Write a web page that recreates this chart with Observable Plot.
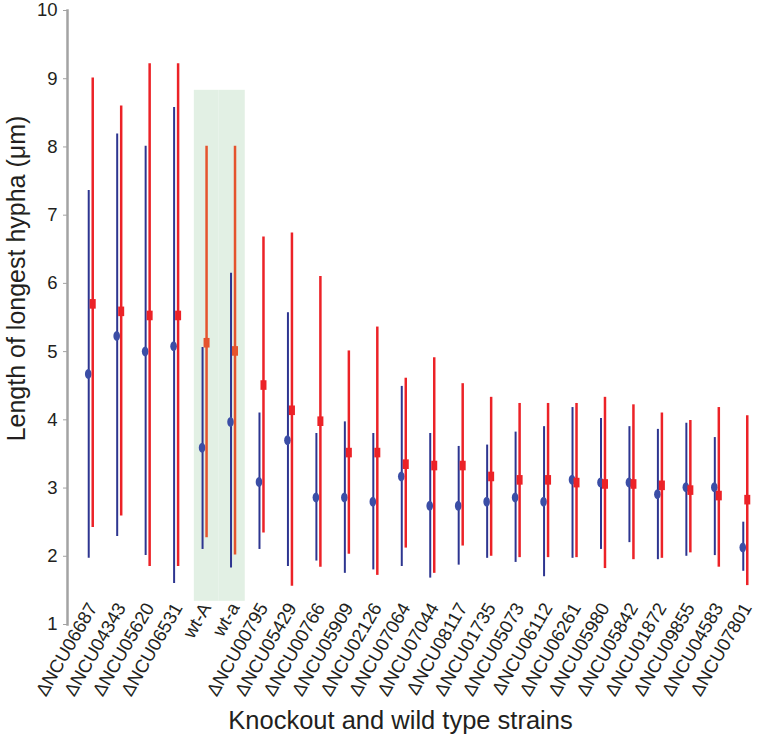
<!DOCTYPE html>
<html><head><meta charset="utf-8">
<script src="https://cdn.jsdelivr.net/npm/d3@7"></script>
<script src="https://cdn.jsdelivr.net/npm/@observablehq/plot@0.6"></script>
<style>body{margin:0;background:#fff}</style>
</head><body><div id="chart"></div>
<script>
const strains = ["ΔNCU06687","ΔNCU04343","ΔNCU05620","ΔNCU06531","wt-A","wt-a","ΔNCU00795","ΔNCU05429","ΔNCU00766","ΔNCU05909","ΔNCU02126","ΔNCU07064","ΔNCU07044","ΔNCU08117","ΔNCU01735","ΔNCU05073","ΔNCU06112","ΔNCU06261","ΔNCU05980","ΔNCU05842","ΔNCU01872","ΔNCU09855","ΔNCU04583","ΔNCU07801"];
const blueMean = [4.67,5.23,5.00,5.08,3.59,3.97,3.09,3.70,2.86,2.86,2.80,3.17,2.74,2.74,2.80,2.86,2.80,3.12,3.08,3.08,2.91,3.01,3.01,2.13];
const blueLow  = [1.97,2.29,2.01,1.60,2.10,1.83,2.10,1.85,1.93,1.75,1.80,1.85,1.68,1.87,1.97,1.91,1.70,1.97,2.10,2.20,1.95,2.00,2.01,1.78];
const blueHigh = [7.36,8.19,8.01,8.58,5.06,6.15,4.10,5.57,3.80,3.97,3.80,4.49,3.80,3.61,3.63,3.82,3.90,4.18,4.02,3.90,3.86,3.95,3.74,2.50];
const redMean  = [5.70,5.59,5.53,5.53,5.13,5.01,4.51,4.14,3.98,3.52,3.52,3.35,3.33,3.33,3.17,3.12,3.12,3.08,3.06,3.06,3.04,2.97,2.89,2.83];
const redLow   = [2.42,2.59,1.85,1.85,2.27,2.02,2.34,1.56,1.84,2.03,1.72,2.12,1.75,2.15,2.00,1.98,1.98,1.98,1.82,1.95,1.97,2.05,1.84,1.57];
const redHigh  = [9.01,8.60,9.22,9.22,8.01,8.01,6.68,6.74,6.10,5.01,5.36,4.61,4.91,4.53,4.33,4.24,4.24,4.24,4.33,4.22,4.10,3.99,4.18,4.06];
const wildTypes = ["wt-A","wt-a"];
const highlightRange = [1.34, 8.83];
const yTicks = [1,2,3,4,5,6,7,8,9,10];
const yTitle = "Length of longest hypha (μm)";
const xTitle = "Knockout and wild type strains";

const rows = strains.map((s, i) => ({
  strain: s, wild: wildTypes.includes(s),
  bMean: blueMean[i], bLow: blueLow[i], bHigh: blueHigh[i],
  rMean: redMean[i], rLow: redLow[i], rHigh: redHigh[i]
}));

const ellipse = {draw(ctx) {
  const rx = 3.3, ry = 5, k = 0.5523;
  ctx.moveTo(rx, 0);
  ctx.bezierCurveTo(rx, ry * k, rx * k, ry, 0, ry);
  ctx.bezierCurveTo(-rx * k, ry, -rx, ry * k, -rx, 0);
  ctx.bezierCurveTo(-rx, -ry * k, -rx * k, -ry, 0, -ry);
  ctx.bezierCurveTo(rx * k, -ry, rx, -ry * k, rx, 0);
  ctx.closePath();
}};
const tallSquare = {draw(ctx) { ctx.rect(-3, -4.8, 6, 9.6); }};
const redFor = d => d.wild ? "#e5532d" : "#ec2227";

const chart = Plot.plot({
  width: 766, height: 747,
  marginTop: 10, marginBottom: 123, marginLeft: 67, marginRight: 7,
  style: {fontFamily: "'Liberation Sans', Arial, sans-serif", fontSize: "17px", color: "#231f20", background: "#fff"},
  x: {type: "band", domain: strains, padding: 0, insetLeft: 9, round: false},
  y: {domain: [1, 10]},
  color: {type: "identity"},
  marks: [
    Plot.barY([wildTypes[0]], {x: d => d, y1: () => highlightRange[0], y2: () => highlightRange[1], fill: "#e2f0e4", insetLeft: 4, insetRight: 0}),
    Plot.barY([wildTypes[1]], {x: d => d, y1: () => highlightRange[0], y2: () => highlightRange[1], fill: "#e2f0e4", insetLeft: 0, insetRight: 2}),
    Plot.frame({anchor: "left", stroke: "#a3a3a3", strokeWidth: 2.5}),
    Plot.axisY({ticks: yTicks, tickSize: 4, tickPadding: 6, stroke: "#a3a3a3", fontSize: 18.5, label: null}),
    Plot.axisX({tickRotate: -60, tickSize: 0, tickPadding: 0, fontSize: 18.5, dy: -20, dx: 2, label: null}),
    Plot.ruleX(rows, {x: "strain", y1: "bLow", y2: "bHigh", stroke: "#2d3590", strokeWidth: 2, dx: -2}),
    Plot.dot(rows, {x: "strain", y: "bMean", symbol: ellipse, fill: "#3b4ea6", stroke: "none", dx: -2.5}),
    Plot.ruleX(rows, {x: "strain", y1: "rLow", y2: "rHigh", stroke: redFor, strokeWidth: 2.5, dx: 2}),
    Plot.dot(rows, {x: "strain", y: "rMean", symbol: tallSquare, fill: redFor, stroke: "none", dx: 2}),
    Plot.text([yTitle], {frameAnchor: "left", textAnchor: "middle", lineAnchor: "middle", rotate: -90, dx: -51, dy: -39, fontSize: 25, fill: "#231f20"}),
    Plot.text([xTitle], {frameAnchor: "bottom", textAnchor: "middle", lineAnchor: "middle", dy: 96, dx: -13, fontSize: 25.5, fill: "#231f20"})
  ]
});
document.getElementById("chart").appendChild(chart);
</script>
</body></html>
